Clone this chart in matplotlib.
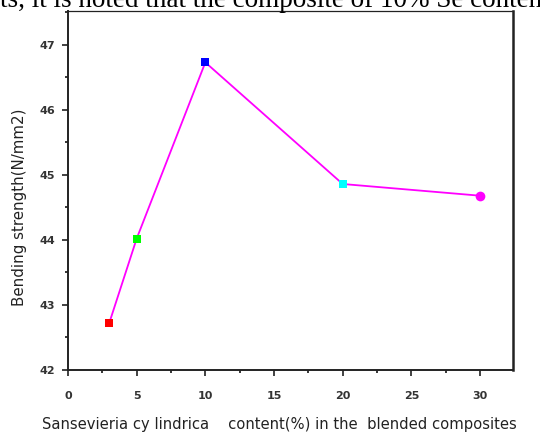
import matplotlib
matplotlib.use("Agg")
import matplotlib.pyplot as plt
from matplotlib.ticker import MultipleLocator

content = [3, 5, 10, 20, 30]
strength = [42.72, 44.02, 46.73, 44.86, 44.68]
marker_colors = ["#ff0000", "#00ff00", "#0000ff", "#00ffff", "#ff00ff"]
marker_shapes = ["s", "s", "s", "s", "o"]
x_ticks = [0, 5, 10, 15, 20, 25, 30]
y_ticks = [42, 43, 44, 45, 46, 47]

W, H = 540, 434
fig = plt.figure(figsize=(W / 100, H / 100), dpi=100)
ax = fig.add_axes([68 / W, (H - 370) / H, (513 - 68) / W, (370 - 11) / H])

ax.plot(content, strength, color="#ff00ff", lw=1.3, zorder=2)
for x, y, c, m in zip(content, strength, marker_colors, marker_shapes):
    ax.plot([x], [y], marker=m, color=c, markersize=6 if m == "s" else 7,
            markeredgewidth=0, linestyle="none", zorder=3)

ax.set_xlim(0, 32.4)
ax.set_ylim(42, 47.52)
ax.set_xticks(x_ticks)
ax.set_yticks(y_ticks)
ax.xaxis.set_minor_locator(MultipleLocator(2.5))
ax.yaxis.set_minor_locator(MultipleLocator(0.5))
ax.tick_params(which="major", direction="out", length=4, width=1.3,
               labelsize=8, colors="#333333")
ax.tick_params(which="minor", direction="out", length=2.5, width=1.1)
for lab in ax.get_xticklabels() + ax.get_yticklabels():
    lab.set_fontweight("bold")
ax.tick_params(axis="x", pad=11)
ax.tick_params(axis="y", pad=5)

for s in ["left", "bottom"]:
    ax.spines[s].set_linewidth(1.4)
ax.spines["right"].set_linewidth(1.8)
ax.spines["top"].set_linewidth(0.9)
for s in ax.spines.values():
    s.set_color("#222222")

fig.text(279 / W, 1 - 425 / H,
         "Sansevieria cy lindrica    content(%) in the  blended composites",
         fontsize=10.6, ha="center", va="center", color="#222222")
fig.text(20 / W, 1 - 207 / H, "Bending strength(N/mm2)",
         fontsize=10.8, rotation=90, ha="center", va="center", color="#222222")

fig.text(0, 1 - 7 / H, "ts, it is noted that the composite of 10% Se content",
         family="Liberation Serif", fontsize=19.5, va="baseline", ha="left")

fig.savefig("out.png", dpi=100)
